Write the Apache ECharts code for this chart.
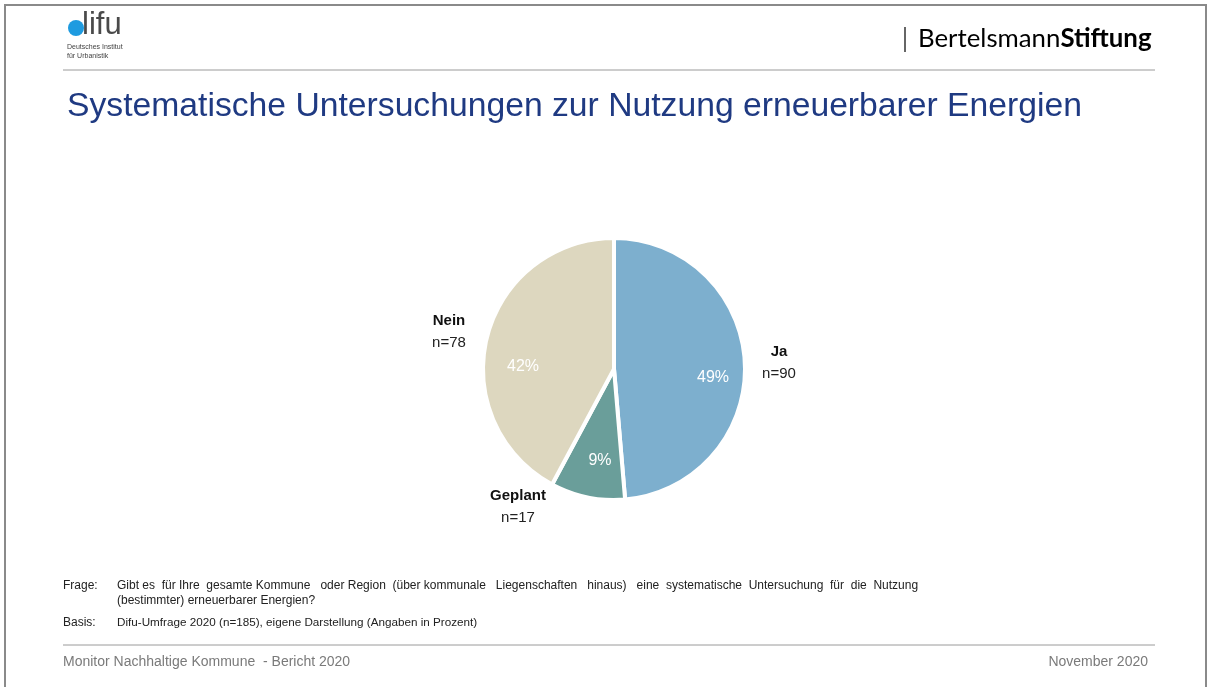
<!DOCTYPE html>
<html>
<head>
<meta charset="utf-8">
<script src="https://cdn.jsdelivr.net/npm/echarts@6/dist/echarts.min.js"></script>
<style>
  html, body { margin: 0; padding: 0; background: #fff; }
  #main { width: 1212px; height: 687px; }
</style>
</head>
<body>
<div id="main"></div>
<script>
// Daten
var categories = ['Ja', 'Geplant', 'Nein'];
var counts = [90, 17, 78];
var sliceColors = ['#7DAFCE', '#6A9E9A', '#DDD7BF'];

var chart = echarts.init(document.getElementById('main'));

var cx = 614, cy = 369, rad = 131;
var font = 'Liberation Sans, Arial, sans-serif';

// Positionen der Beschriftungen (relativ zur Kreismitte)
var outerPos = [[165, -6], [-96, 138], [-165, -37]];
var innerPos = [[99, 9], [-14, 92], [-91, -2]];

var pieData = categories.map(function (c, i) {
    return { name: c, value: counts[i], itemStyle: { color: sliceColors[i] } };
});
var plainData = categories.map(function (c, i) {
    return { name: c, value: counts[i] };
});

var option = {
    animation: false,
    backgroundColor: '#fff',
    title: {
        text: 'Systematische Untersuchungen zur Nutzung erneuerbarer Energien',
        left: 62,
        top: 85,
        textStyle: { fontFamily: font, fontSize: 33.7, fontWeight: 'normal', color: '#1F3A82' }
    },
    series: [
        {
            type: 'pie',
            center: [cx, cy],
            radius: [0, rad],
            startAngle: 90,
            silent: true,
            data: pieData,
            itemStyle: { borderColor: '#fff', borderWidth: 4 },
            label: { show: false },
            labelLine: { show: false }
        },
        {
            // Prozentwerte innen
            type: 'pie',
            center: [cx, cy],
            radius: [0, rad],
            startAngle: 90,
            silent: true,
            data: plainData,
            itemStyle: { color: 'rgba(0,0,0,0)' },
            label: {
                show: true,
                position: 'inside',
                formatter: function (p) { return Math.round(p.percent) + '%'; },
                fontFamily: font,
                fontSize: 16,
                color: '#fff'
            },
            labelLine: { show: false },
            labelLayout: function (p) {
                var o = innerPos[p.dataIndex];
                return { x: cx + o[0], y: cy + o[1], align: 'center', verticalAlign: 'middle' };
            }
        },
        {
            // Kategorie und n außen
            type: 'pie',
            center: [cx, cy],
            radius: [0, rad],
            startAngle: 90,
            silent: true,
            data: plainData,
            itemStyle: { color: 'rgba(0,0,0,0)' },
            label: {
                show: true,
                position: 'outside',
                formatter: function (p) { return '{b|' + p.name + '}\n{n|n=' + p.value + '}'; },
                align: 'center',
                rich: {
                    b: { fontFamily: font, fontSize: 15, fontWeight: 'bold', color: '#111', lineHeight: 22, align: 'center' },
                    n: { fontFamily: font, fontSize: 15, color: '#222', lineHeight: 22, align: 'center' }
                }
            },
            labelLine: { show: false },
            labelLayout: function (p) {
                var o = outerPos[p.dataIndex];
                return { x: cx + o[0], y: cy + o[1], align: 'center', verticalAlign: 'middle' };
            }
        }
    ],
    graphic: [
        // Rahmen
        { type: 'rect', shape: { x: 5, y: 5, width: 1201, height: 700 }, style: { fill: 'none', stroke: '#8a8a8a', lineWidth: 2 }, silent: true },
        // Kopf
        { type: 'circle', shape: { cx: 76, cy: 28, r: 8 }, style: { fill: '#1E9BE0' } },
        { type: 'text', left: 82, top: 10, style: { text: 'lifu', font: '300 31px ' + font, fill: '#4a4a4a' } },
        { type: 'text', left: 67, top: 43, style: { text: 'Deutsches Institut\nfür Urbanistik', font: '7px ' + font, fill: '#444', lineHeight: 9 } },
        { type: 'line', shape: { x1: 63, y1: 70, x2: 1155, y2: 70 }, style: { stroke: '#9a9a9a', lineWidth: 1 } },
        { type: 'line', shape: { x1: 905, y1: 27, x2: 905, y2: 52 }, style: { stroke: '#333', lineWidth: 1.5 } },
        {
            type: 'text', left: 918, top: 26,
            style: {
                text: '{r|Bertelsmann}{s|Stiftung}',
                rich: {
                    r: { fontFamily: 'Lato, Open Sans, sans-serif', fontSize: 25.8, color: '#2C3F7C' },
                    s: { fontFamily: 'Lato, Open Sans, sans-serif', fontSize: 25.8, fontWeight: 'bold', color: '#2C3F7C' }
                }
            }
        },
        // Fußnoten
        { type: 'text', left: 63, top: 578, style: { text: 'Frage:', font: '12px ' + font, fill: '#222', lineHeight: 15 } },
        { type: 'text', left: 117, top: 578, style: { text: 'Gibt es  für Ihre  gesamte Kommune   oder Region  (über kommunale   Liegenschaften   hinaus)   eine  systematische  Untersuchung  für  die  Nutzung\n(bestimmter) erneuerbarer Energien?', font: '12px ' + font, fill: '#222', lineHeight: 15 } },
        { type: 'text', left: 63, top: 615, style: { text: 'Basis:', font: '12px ' + font, fill: '#222', lineHeight: 15 } },
        { type: 'text', left: 117, top: 615, style: { text: 'Difu-Umfrage 2020 (n=185), eigene Darstellung (Angaben in Prozent)', font: '11.7px ' + font, fill: '#222', lineHeight: 15 } },
        { type: 'line', shape: { x1: 63, y1: 645, x2: 1155, y2: 645 }, style: { stroke: '#9a9a9a', lineWidth: 1 } },
        { type: 'text', left: 63, top: 655, style: { text: 'Monitor Nachhaltige Kommune  - Bericht 2020', font: '14px ' + font, fill: '#7a7a7a' } },
        { type: 'text', right: 64, top: 655, style: { text: 'November 2020', font: '14px ' + font, fill: '#7a7a7a' } }
    ]
};

chart.setOption(option);
</script>
</body>
</html>
